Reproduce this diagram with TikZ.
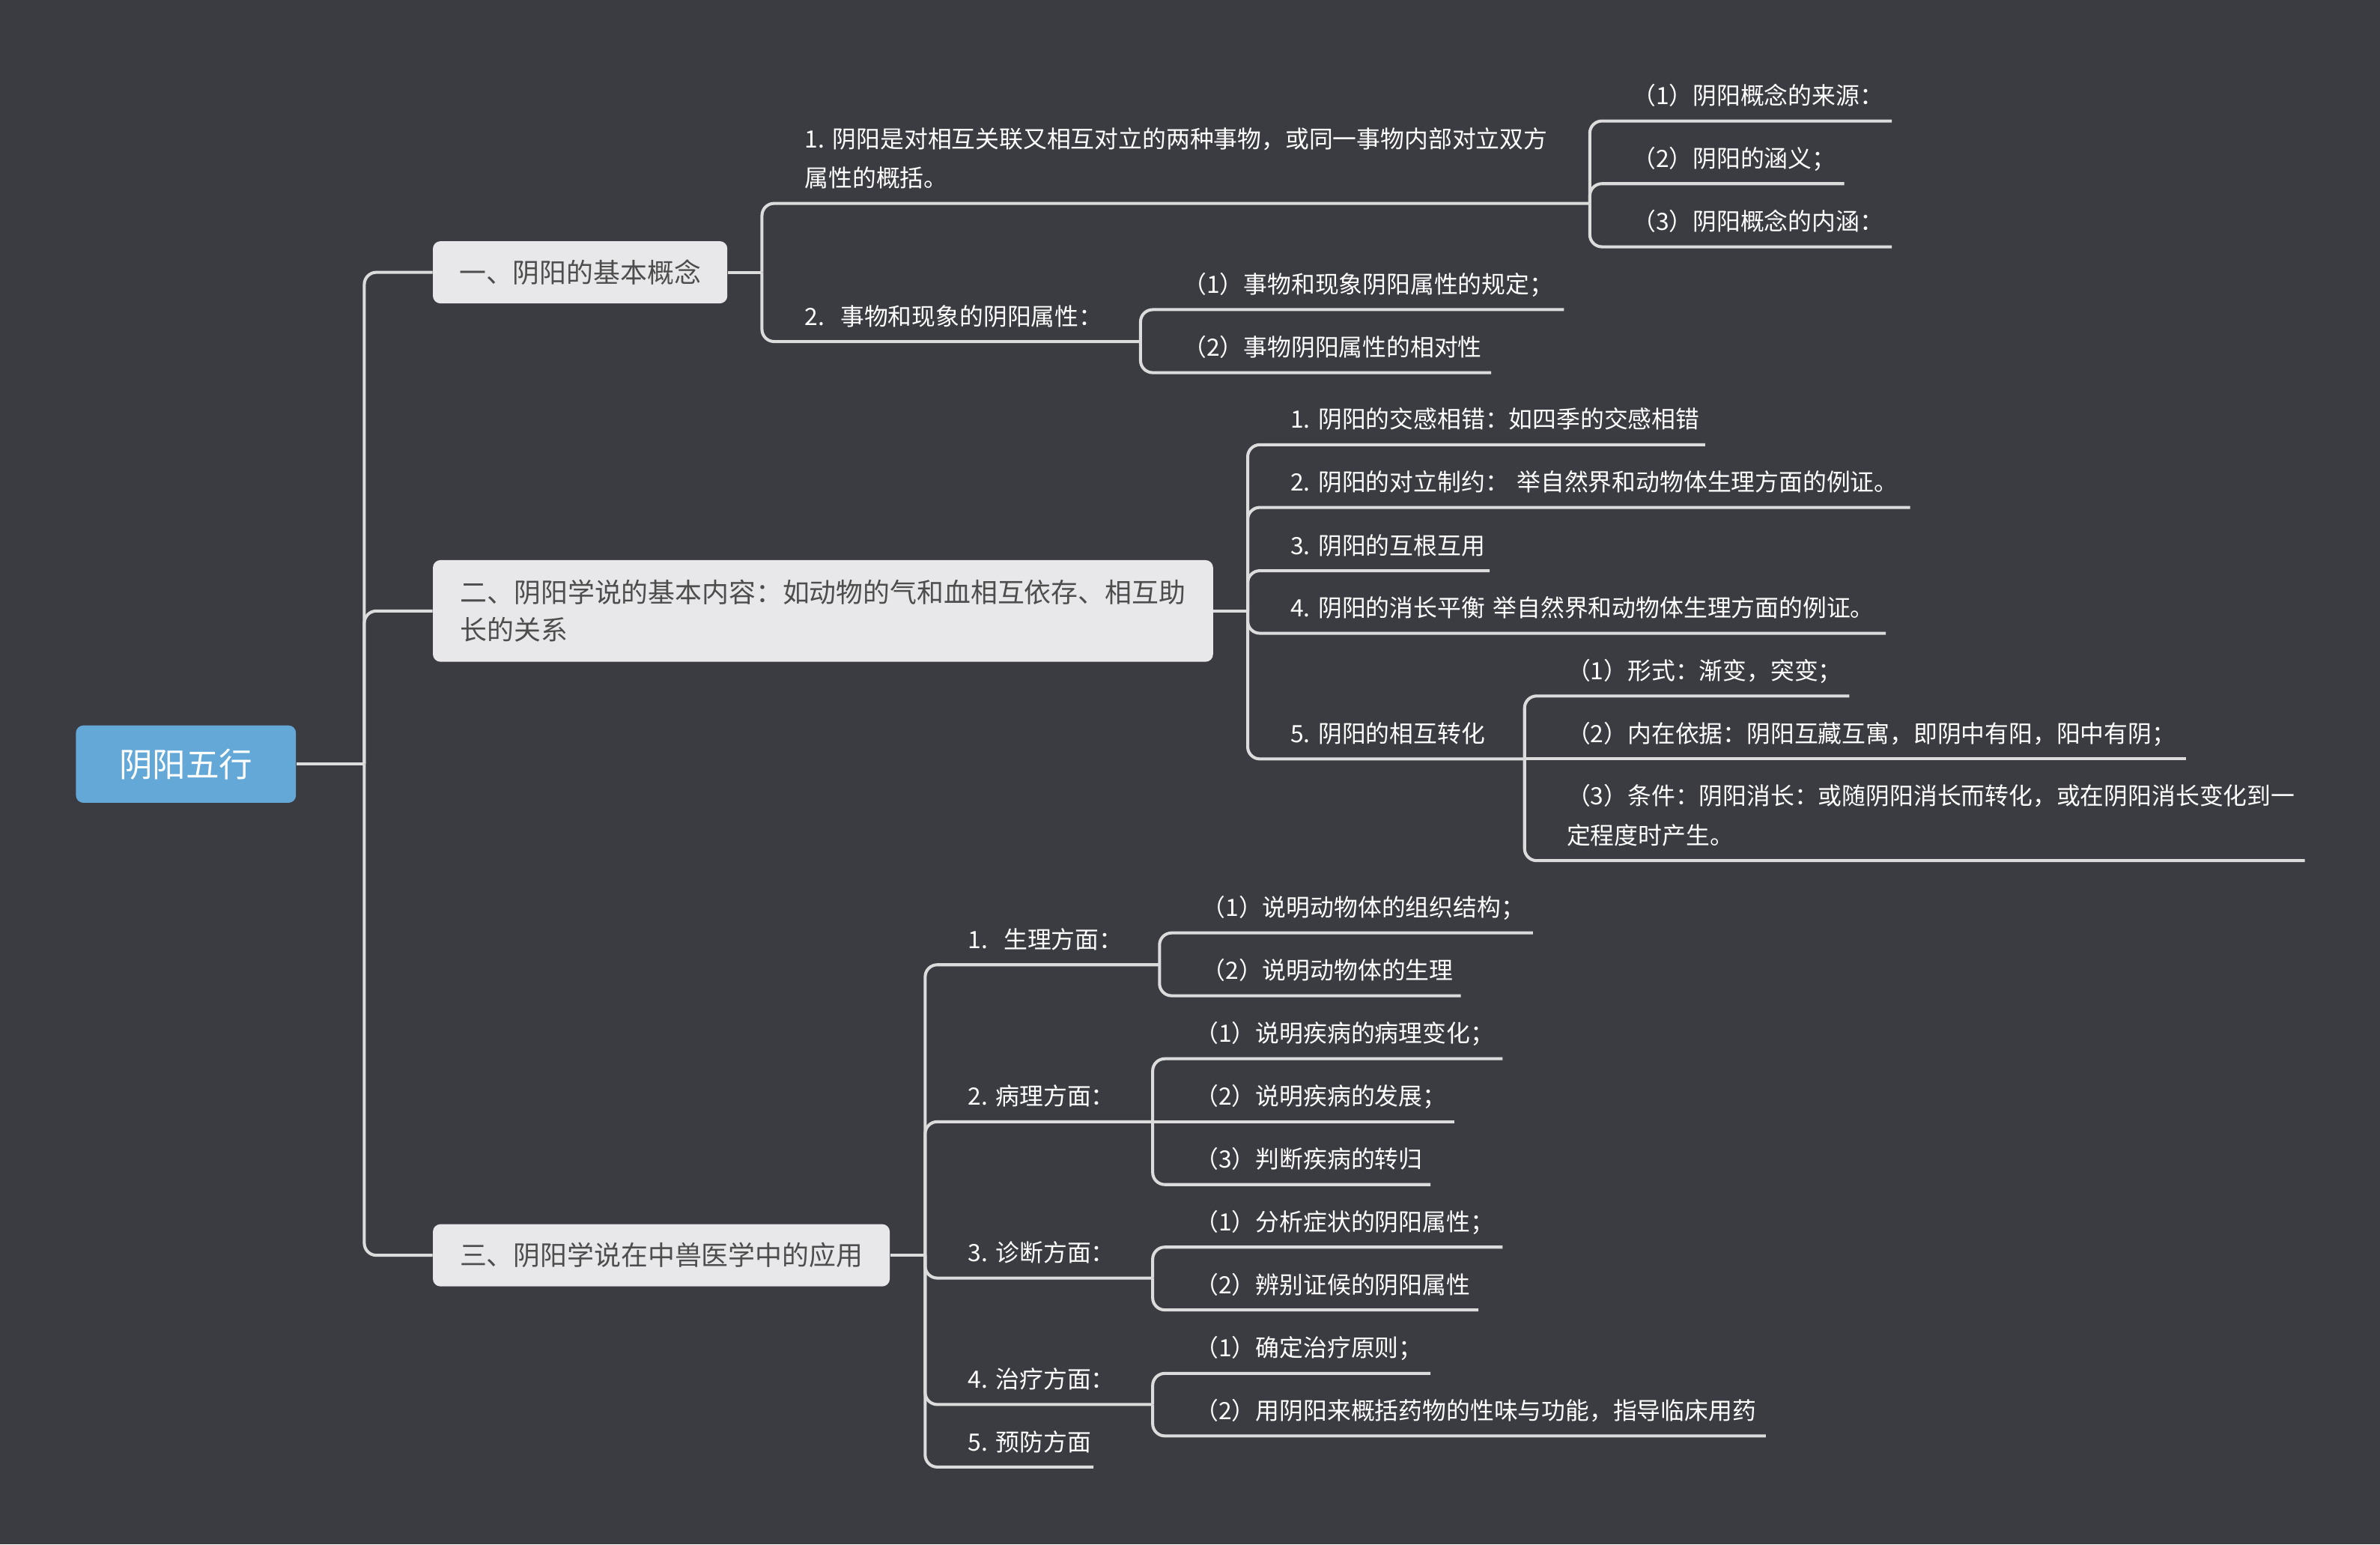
\documentclass[tikz,border=0pt]{standalone}
\usepackage{fontspec}
\newfontfamily\cjk{Noto Sans CJK SC}
\definecolor{bgc}{HTML}{3B3C42}
\definecolor{linec}{HTML}{DCDCDC}
\definecolor{boxc}{HTML}{E8E8EA}
\definecolor{boxtxt}{HTML}{4D4D4D}
\definecolor{rootc}{HTML}{64A8D8}
\newcommand{\dropline}{\rule[-10.6pt]{0pt}{10.6pt}}
\begin{document}
\begin{tikzpicture}[x=1pt, y=-1pt,
  link/.style={draw=linec, line width=2pt, rounded corners=8pt},
  topic/.style={fill=boxc, text=boxtxt, rounded corners=5pt, anchor=west, minimum height=41pt, inner xsep=17pt, align=left, font=\cjk\fontsize{17.7}{25}\selectfont},
  leaf/.style={anchor=south west, inner sep=0pt, text=white, align=left, font=\cjk\fontsize{15.7}{26}\selectfont}]
\fill[bgc] (0,0) rectangle (1568,1017.4);
\useasboundingbox (0,0) rectangle (1568,1017.4);
% root
\node[fill=rootc, text=white, rounded corners=5pt, minimum width=145pt, minimum height=51pt, font=\cjk\fontsize{22}{26}\selectfont] (root) at (122.5,503.4){阴阳五行};
\coordinate (rootj) at (240,503.4);
\draw[link] (root.east) -- (rootj);
% topics
\node[topic, minimum width=194pt] (b1) at (285,179.4){一、阴阳的基本概念};
\node[topic, minimum width=514pt, minimum height=67pt] (b2) at (285,402.5){二、阴阳学说的基本内容：如动物的气和血相互依存、相互助\\长的关系};
\node[topic, minimum width=301pt] (b3) at (285,827){三、阴阳学说在中兽医学中的应用};
\draw[link] (rootj) |- (b1.west);
\draw[link] (rootj) |- (b2.west);
\draw[link] (rootj) |- (b3.west);
\coordinate (b1j) at (502,179.4);
\coordinate (b2j) at (822,402.5);
\coordinate (b3j) at (609.5,827);
\draw[link] (b1.east) -- (b1j);
\draw[link] (b2.east) -- (b2j);
\draw[link] (b3.east) -- (b3j);
% topic 1
\node[leaf, text width=517pt] (a1) at (530,134){1.~阴阳是对相互关联又相互对立的两种事物，或同一事物内部对立双方\\属性的概括。\dropline};
\node[leaf, text width=221pt] (a2) at (530,225){2.~~事物和现象的阴阳属性：\dropline};
\draw[link] (b1j) |- (a1.south east);
\draw[link] (b1j) |- (a2.south east);
\node[leaf, text width=171pt] (a11) at (1075,79.7){（1）阴阳概念的来源：\dropline};
\node[leaf, text width=139.6pt] (a12) at (1075,121){（2）阴阳的涵义；\dropline};
\node[leaf, text width=171pt] (a13) at (1075,162.6){（3）阴阳概念的内涵：\dropline};
\draw[link] (a1.south east) |- (a11.south east);
\draw[link] (a1.south east) |- (a12.south east);
\draw[link] (a1.south east) |- (a13.south east);
\node[leaf, text width=251pt] (a21) at (779,204){（1）事物和现象阴阳属性的规定；\dropline};
\node[leaf, text width=203pt] (a22) at (779,245.5){（2）事物阴阳属性的相对性\dropline};
\draw[link] (a2.south east) |- (a21.south east);
\draw[link] (a2.south east) |- (a22.south east);
% topic 2
\node[leaf, text width=273pt] (c1) at (850,293){1.~阴阳的交感相错：如四季的交感相错\dropline};
\node[leaf, text width=408pt] (c2) at (850,334.3){2.~阴阳的对立制约：~举自然界和动物体生理方面的例证。\dropline};
\node[leaf, text width=131pt] (c3) at (850,376){3.~阴阳的互根互用\dropline};
\node[leaf, text width=392pt] (c4) at (850,417.2){4.~阴阳的消长平衡~举自然界和动物体生理方面的例证。\dropline};
\node[leaf, text width=154pt] (c5) at (850,500){5.~阴阳的相互转化\dropline};
\foreach \n in {c1,c2,c3,c4,c5}
  \draw[link] (b2j) |- (\n.south east);
\node[leaf, text width=186pt] (c51) at (1032,458.5){（1）形式：渐变，突变；\dropline};
\node[leaf, text width=408pt] (c52) at (1032,500){（2）内在依据：阴阳互藏互寓，即阴中有阳，阳中有阴；\dropline};
\node[leaf, text width=486pt] (c53) at (1032,567){（3）条件：阴阳消长：或随阴阳消长而转化，或在阴阳消长变化到一\\定程度时产生。\dropline};
\draw[link] (c5.south east) |- (c51.south east);
\draw[link] (c5.south east) -- (c52.south east);
\draw[link] (c5.south east) |- (c53.south east);
% topic 3
\node[leaf, text width=126pt] (d1) at (637.5,635.6){1.~~生理方面：\dropline};
\node[leaf, text width=121.5pt] (d2) at (637.5,739){2.~病理方面：\dropline};
\node[leaf, text width=121.5pt] (d3) at (637.5,842){3.~诊断方面：\dropline};
\node[leaf, text width=121.5pt] (d4) at (637.5,925.3){4.~治疗方面：\dropline};
\node[leaf, text width=82.5pt] (d5) at (637.5,966.5){5.~预防方面\dropline};
\foreach \n in {d1,d2,d3,d4,d5}
  \draw[link] (b3j) |- (\n.south east);
\node[leaf, text width=218pt] (d11) at (791.5,614.6){（1）说明动物体的组织结构；\dropline};
\node[leaf, text width=170.5pt] (d12) at (791.5,656){（2）说明动物体的生理\dropline};
\draw[link] (d1.south east) |- (d11.south east);
\draw[link] (d1.south east) |- (d12.south east);
\node[leaf, text width=202.5pt] (d21) at (787,697.5){（1）说明疾病的病理变化；\dropline};
\node[leaf, text width=171pt] (d22) at (787,739){（2）说明疾病的发展；\dropline};
\node[leaf, text width=155pt] (d23) at (787,780.4){（3）判断疾病的转归\dropline};
\draw[link] (d2.south east) |- (d21.south east);
\draw[link] (d2.south east) -- (d22.south east);
\draw[link] (d2.south east) |- (d23.south east);
\node[leaf, text width=202.5pt] (d31) at (787,821.6){（1）分析症状的阴阳属性；\dropline};
\node[leaf, text width=186.6pt] (d32) at (787,863){（2）辨别证候的阴阳属性\dropline};
\draw[link] (d3.south east) |- (d31.south east);
\draw[link] (d3.south east) |- (d32.south east);
\node[leaf, text width=155pt] (d41) at (787,904.8){（1）确定治疗原则；\dropline};
\node[leaf, text width=376pt] (d42) at (787,946){（2）用阴阳来概括药物的性味与功能，指导临床用药\dropline};
\draw[link] (d4.south east) |- (d41.south east);
\draw[link] (d4.south east) |- (d42.south east);
\end{tikzpicture}
\end{document}
